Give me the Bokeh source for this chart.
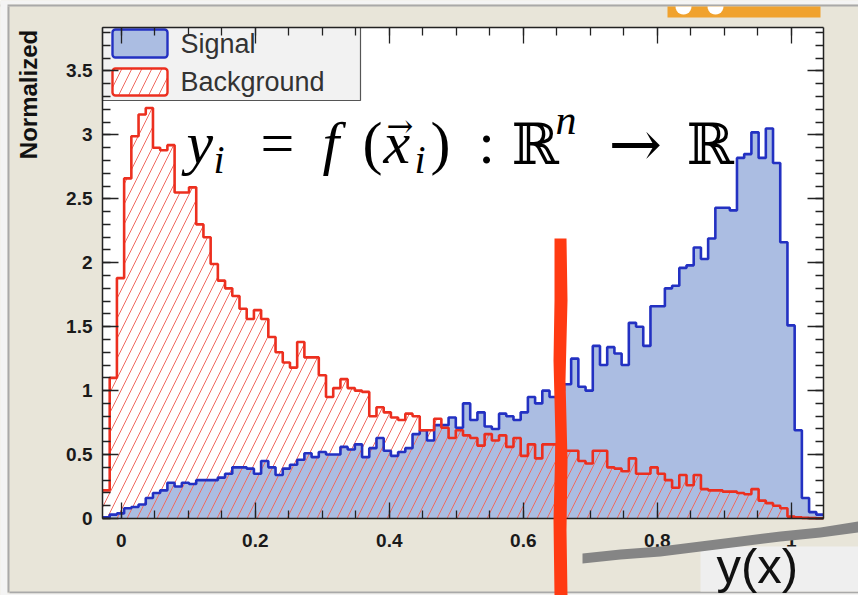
import numpy as np
from bokeh.plotting import figure
from bokeh.models import (LinearAxis, FixedTicker, NumeralTickFormatter, CustomJSTickFormatter,
                          Label, BoxAnnotation, PolyAnnotation, Range1d)
from bokeh.embed import file_html
from bokeh.resources import INLINE

# ---------------- data ----------------
x_min, x_max = -0.028, 1.048
n_bins = 100
y_max = 3.84

signal = [
    0.01, 0.03, 0.04, 0.08, 0.09, 0.11, 0.16, 0.20, 0.22, 0.28,
    0.25, 0.28, 0.27, 0.30, 0.30, 0.30, 0.32, 0.35, 0.40, 0.40,
    0.39, 0.35, 0.45, 0.40, 0.34, 0.39, 0.42, 0.46, 0.51, 0.48,
    0.52, 0.50, 0.50, 0.56, 0.54, 0.58, 0.48, 0.55, 0.63, 0.53,
    0.49, 0.52, 0.55, 0.66, 0.69, 0.61, 0.73, 0.73, 0.79, 0.71,
    0.90, 0.77, 0.83, 0.72, 0.70, 0.82, 0.80, 0.77, 0.83, 0.95,
    0.90, 1.00, 0.95, 1.00, 1.05, 1.25, 1.03, 1.00, 1.35, 1.20,
    1.34, 1.29, 1.20, 1.53, 1.50, 1.35, 1.66, 1.66, 1.80, 1.82,
    1.96, 1.98, 2.12, 2.03, 2.19, 2.43, 2.43, 2.41, 2.82, 2.85,
    3.02, 2.82, 3.05, 2.78, 2.16, 1.51, 0.69, 0.16, 0.05, 0.03,
]

background = [
    0.22, 1.10, 1.88, 2.66, 2.99, 3.16, 3.21, 2.90, 2.88, 2.92,
    2.55, 2.55, 2.59, 2.30, 2.20, 1.99, 1.86, 1.80, 1.74, 1.64,
    1.56, 1.63, 1.56, 1.42, 1.30, 1.22, 1.18, 1.38, 1.26, 1.26,
    1.12, 0.95, 1.02, 1.09, 1.02, 1.00, 0.99, 0.80, 0.87, 0.83,
    0.79, 0.77, 0.82, 0.80, 0.69, 0.69, 0.78, 0.71, 0.63, 0.69,
    0.65, 0.63, 0.57, 0.66, 0.61, 0.65, 0.56, 0.63, 0.49, 0.58,
    0.47, 0.58, 0.58, 0.47, 0.53, 0.53, 0.45, 0.43, 0.53, 0.53,
    0.40, 0.39, 0.37, 0.47, 0.35, 0.35, 0.40, 0.35, 0.30, 0.24,
    0.34, 0.26, 0.34, 0.23, 0.22, 0.22, 0.21, 0.21, 0.20, 0.19,
    0.23, 0.14, 0.12, 0.10, 0.08, 0.015, 0.01, 0.005, 0.003, 0.002,
]

x_major = [0, 0.2, 0.4, 0.6, 0.8, 1]
x_minor = [0, 0.05, 0.1, 0.15, 0.2, 0.25, 0.3, 0.35, 0.4, 0.45, 0.5,
           0.55, 0.6, 0.65, 0.7, 0.75, 0.8, 0.85, 0.9, 0.95, 1]
y_major = [0, 0.5, 1, 1.5, 2, 2.5, 3, 3.5]
y_minor = [round(0.1 * k, 1) for k in range(0, 39)]

legend_labels = ["Signal", "Background"]
y_title = "Normalized"
x_title = "y(x)"

# ---------------- style / layout ----------------
W, H = 858, 595
FL, FR, FT, FB = 102, 823, 27, 518          # plot-frame edges in page pixels
BEIGE = "#e8e5d9"
BLUE_FILL = "#abbde2"
BLUE_LINE = "#2331c2"
RED_LINE = "#ec2f1f"
RED_HATCH = "#f06a60"
TICK = "#222222"

# the Bokeh frame covers the whole page; the ranges are widened so that the
# histogram area lands on the frame of the original picture
ppx = (FR - FL) / (x_max - x_min)
ppy = (FB - FT) / y_max
view_x = (x_min - FL / ppx, x_max + (W - FR) / ppx)
view_y = (-(H - FB) / ppy, y_max + FT / ppy)

p = figure(width=W, height=H, output_backend="svg", toolbar_location=None,
           x_range=Range1d(*view_x), y_range=Range1d(*view_y),
           x_axis_location=None, y_axis_location=None, min_border=0,
           background_fill_color=BEIGE, border_fill_color=BEIGE,
           outline_line_color=None)
p.grid.visible = False

# white plot area
p.add_layout(BoxAnnotation(left=x_min, right=x_max, bottom=0, top=y_max,
                           fill_color="white", fill_alpha=1, line_color=None,
                           level="underlay"))

blank = CustomJSTickFormatter(code="return ''")


def add_axis(side, loc, bounds, major, minor, show, standoff=10):
    ax = LinearAxis(fixed_location=loc, bounds=bounds,
                    ticker=FixedTicker(ticks=major, minor_ticks=minor),
                    formatter=NumeralTickFormatter(format="0.[0]") if show else blank,
                    major_tick_in=16, major_tick_out=0, minor_tick_in=8, minor_tick_out=0,
                    major_tick_line_color=TICK, minor_tick_line_color=TICK,
                    major_tick_line_width=1.3, minor_tick_line_width=1.3,
                    axis_line_color=TICK, axis_line_width=1.5,
                    major_label_standoff=standoff,
                    major_label_text_font="Liberation Sans",
                    major_label_text_font_style="bold",
                    major_label_text_font_size="19px",
                    major_label_text_color="#1a1a1a")
    p.add_layout(ax, side)


add_axis("below", 0, (x_min, x_max), x_major, x_minor, True, 15)
add_axis("above", y_max, (x_min, x_max), x_major, x_minor, False)
add_axis("left", x_min, (0, y_max), y_major, y_minor, True, 10)
add_axis("right", x_max, (0, y_max), y_major, y_minor, False)

# ---------------- histograms ----------------
edges = np.linspace(x_min, x_max, n_bins + 1)
zeros = np.zeros(n_bins + 1)
sig_ext = list(signal) + [signal[-1]]
bkg_ext = list(background) + [background[-1]]

p.varea_step(x=edges, y1=zeros, y2=sig_ext, step_mode="after",
             fill_color=BLUE_FILL, fill_alpha=1)
p.varea_step(x=edges, y1=zeros, y2=bkg_ext, step_mode="after",
             fill_color=None, hatch_pattern="/", hatch_color=RED_HATCH,
             hatch_scale=20, hatch_weight=1.0)
p.step(x=edges, y=sig_ext, mode="after", line_color=BLUE_LINE, line_width=2.6)
p.step(x=edges, y=bkg_ext, mode="after", line_color=RED_LINE, line_width=2.6)


# ---------------- helpers for page-pixel decorations ----------------
def sx(px):
    return px


def sy(py):
    return H - py


def box(x0, y0, x1, y1, color, level="annotation", **kw):
    opts = dict(fill_color=color, fill_alpha=1, line_color=None, line_alpha=1)
    opts.update(kw)
    b = BoxAnnotation(left=sx(x0), right=sx(x1), top=sy(y0), bottom=sy(y1),
                      left_units="screen", right_units="screen",
                      top_units="screen", bottom_units="screen",
                      level=level, **opts)
    p.add_layout(b)


def poly(pts, color, level="annotation"):
    pa = PolyAnnotation(xs=[sx(a) for a, _ in pts], ys=[sy(b) for _, b in pts],
                        xs_units="screen", ys_units="screen",
                        fill_color=color, fill_alpha=1, line_color=None, level=level)
    p.add_layout(pa)


def label(px, py, text, size, font="Liberation Serif", style="normal",
          color="black", align="left", baseline="alphabetic", angle=0):
    # py is the wanted baseline; Bokeh's text box sits ~0.35 em lower
    if baseline == "alphabetic":
        py = py - 0.35 * size
    p.add_layout(Label(x=sx(px), y=sy(py), x_units="screen", y_units="screen",
                       text=text, text_font=font, text_font_size=f"{size}px",
                       text_font_style=style, text_color=color, text_align=align,
                       text_baseline=baseline, angle=angle))


# window borders
box(0, 0, W, 4, "#f4f4f4")
box(0, 4, W, 6, "#a9a9a9")
box(0, 0, 7, H, "#f4f4f4")
box(7, 6, 9, 592, "#a9a9a9")
box(9, 591, W, 593, "#a9a9a9")
box(0, 593, W, H, "#f4f4f4")

# orange piece at the top right
box(667, 6, 820, 17, "#f0a22e")
for cx in (683, 715):
    pts = [(cx + 8 * np.cos(t), 6 + 8 * np.sin(t)) for t in np.linspace(0, np.pi, 13)]
    poly(pts, "#ffffff")

# legend (drawn under the axis ticks, as in the picture)
box(FL, FT, 360, 100, "#f2f2f2", level="underlay",
    line_color="#555555", line_width=1.2)
box(112, 29, 167, 57, BLUE_FILL, level="underlay",
    line_color=BLUE_LINE, line_width=2.4, border_radius=3)
box(112, 68, 167, 95, "white", level="underlay",
    line_color=RED_LINE, line_width=2.4, border_radius=3,
    hatch_pattern="/", hatch_color=RED_HATCH, hatch_scale=20, hatch_weight=1.0)
label(180, 43, legend_labels[0], 27, font="Liberation Sans", color="#333333",
      baseline="middle")
label(180, 81, legend_labels[1], 27, font="Liberation Sans", color="#333333",
      baseline="middle")

# light box behind the x title
box(700, 546, W, 591, "#efefef")

# axis titles
label(28, 94, y_title, 24, font="Liberation Sans", style="bold",
      color="#111111", align="center", baseline="middle", angle=np.pi / 2)
label(716, 583, x_title, 49, font="Liberation Sans", color="#111111")

# formula  y_i = f(x_i) : R^n -> R
label(186, 163, "y", 60, style="italic")
label(213, 173, "i", 40, style="italic")
label(277, 163, "=", 60, align="center")
label(322, 163, "f", 60, style="italic")
label(362, 163, "(", 60)
label(383, 163, "x", 60, style="italic")
label(386, 137, "\u2192", 32, font="DejaVu Serif")
label(414, 173, "i", 40, style="italic")
label(430, 163, ")", 60)
label(486, 163, ":", 60, align="center")
label(511, 163, "\u211d", 57, font="DejaVu Serif")
label(555, 134, "n", 42, style="italic")
label(608, 166, "\u2192", 64, font="DejaVu Serif")
label(686, 163, "\u211d", 57, font="DejaVu Serif")

# grey scribble and red vertical scribble (over the axes)
poly([(582, 553), (620, 549), (660, 546), (700, 541), (740, 536), (780, 531),
      (820, 527), (858, 521), (858, 532), (820, 537), (780, 541), (740, 546),
      (700, 551), (660, 556), (620, 559), (582, 563)], "#858585",
     level="overlay")
poly([(554, 238), (566, 238), (567, 300), (565, 380), (567, 460), (566, 530),
      (567, 595), (554, 595), (553, 520), (555, 440), (553, 360), (554, 300)],
     "#ff3a12", level="overlay")

open("out.html", "w").write(file_html(p, INLINE))
